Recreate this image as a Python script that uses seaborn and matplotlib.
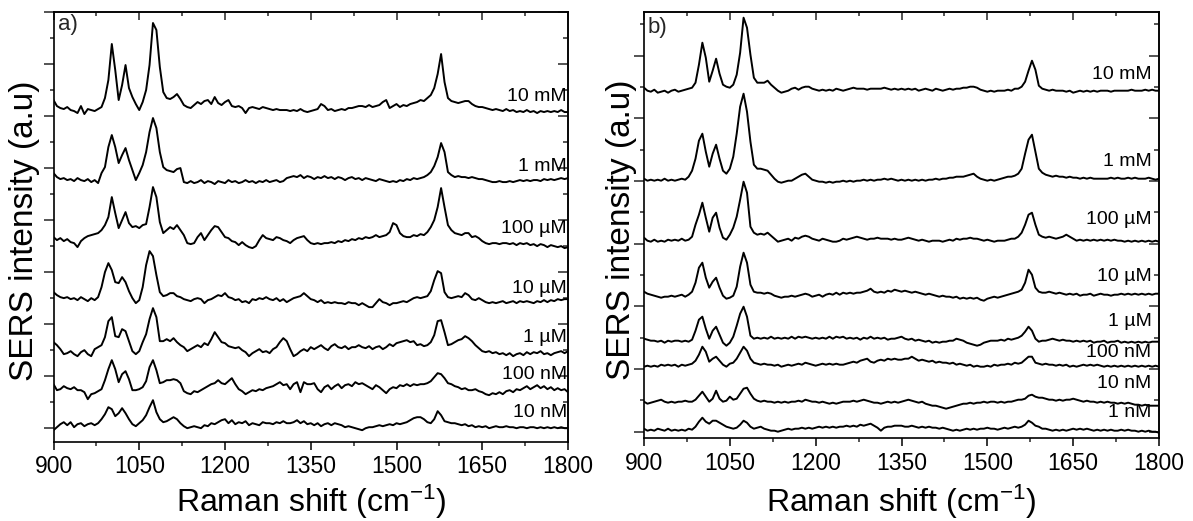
import numpy as np
import pandas as pd
import matplotlib
matplotlib.use("Agg")
import matplotlib.pyplot as plt
import seaborn as sns
from matplotlib.ticker import MultipleLocator, NullFormatter

# Raman shift axis: spectra sampled every 6 cm-1 from 900 to 1800 cm-1
wavenumber = np.arange(900, 1801, 6)

# ---- panel a: SERS spectra (counts above each trace's stacking offset) ----
conc_a = ["10 mM", "1 mM", "100 µM", "10 µM", "1 µM", "100 nM", "10 nM"]
offset_a = [318, 248, 186, 128, 79, 41, 4]

spec_a_10mM = [
    10, 4, 2, 1, 3, 0, -1, -3, 4, -4,
    1, 0, -1, 1, 3, 12, 30, 66, 40, 10,
    25, 45, 22, 13, 6, 0, 8, 20, 45, 87,
    80, 43, 18, 12, 11, 13, 16, 11, 5, 3,
    2, 5, 8, 6, 9, 10, 6, 13, 7, 5,
    8, 10, 4, 3, 4, 2, -3, 2, 3, 2,
    1, 3, 2, 1, 0, 1, 0, 0, 0, -1,
    0, -1, 1, -1, -2, -1, 0, 1, 6, 4,
    0, 1, -1, 0, 1, 0, 2, 2, 3, 4,
    4, 3, 5, 3, 4, 5, 8, 10, 2, 4,
    6, 3, 5, 4, 6, 7, 8, 10, 9, 12,
    15, 22, 36, 56, 28, 12, 9, 8, 7, 8,
    9, 9, 6, 4, 3, 3, 2, 1, 0, 1,
    0, -1, 1, -1, 0, -2, -1, -2, 0, -2,
    -1, -3, -1, -2, -1, -2, -1, -2, 0, -2,
    -2]
spec_a_1mM = [
    7, 3, 1, 2, 0, 1, -1, 2, 0, -1,
    1, -2, 0, -3, 7, 13, 33, 45, 33, 17,
    25, 32, 20, 10, 0, 7, 15, 28, 48, 62,
    52, 28, 13, 10, 9, 8, 11, 12, -2, -3,
    -1, -3, -2, 0, -3, -1, -2, -4, -1, -2,
    -3, 0, -2, -1, -3, -2, 0, -2, -1, -3,
    -1, -2, 0, -2, -1, 0, -2, -1, 2, 3,
    4, 3, 5, 2, 4, 3, 1, 3, 2, 4,
    2, 3, 1, 3, 2, 0, 2, 3, 1, 2,
    0, 2, 1, 0, -1, 1, 0, -1, -2, -1,
    -2, 0, -1, 1, 0, 2, 1, 2, 3, 5,
    8, 14, 23, 37, 28, 8, 5, 3, 4, 3,
    3, 2, 3, 2, 1, 1, 0, -1, -2, -2,
    -1, -2, -2, -1, -2, -1, 0, -1, 0, -1,
    0, 0, -1, 1, 0, 1, 0, 1, 2, 1,
    2]
spec_a_100uM = [
    5, 2, 4, 1, 3, 0, -1, -5, 1, 4,
    6, 7, 8, 9, 12, 17, 25, 45, 29, 14,
    22, 30, 19, 15, 16, 14, 17, 18, 35, 55,
    45, 20, 9, 12, 15, 13, 17, 12, 7, -1,
    -2, -1, 5, 9, 2, 7, 12, 16, 15, 10,
    5, 4, 1, 0, -3, 0, -3, -5, -6, -4,
    2, 7, 4, 3, 2, 5, 4, 2, 1, -1,
    2, 4, 5, 6, 2, -1, -2, -1, -2, -1,
    -1, 0, -1, 1, 0, 2, 1, 3, 2, 4,
    3, 5, 4, 5, 7, 5, 6, 7, 10, 19,
    17, 9, 6, 5, 5, 7, 6, 8, 7, 10,
    15, 22, 35, 54, 35, 17, 12, 9, 8, 7,
    9, 9, 5, 6, 4, 1, -1, -2, -1, -1,
    -2, -1, -1, -2, -1, -3, -1, -2, -1, -3,
    -2, -4, -2, -3, -5, -3, -4, -5, -4, -6,
    -5]
spec_a_10uM = [
    8, 5, 3, 2, 3, 1, 2, 0, 3, 1,
    -1, 2, 0, 3, 13, 28, 37, 30, 18, 17,
    23, 18, 9, 2, -3, 0, 13, 35, 49, 44,
    25, 8, 4, 5, 7, 7, 4, 3, 1, 0,
    -1, 1, 2, 1, -3, 0, 1, 3, 5, 4,
    7, 3, 2, 0, 1, -2, -1, -3, 1, 0,
    2, 1, 3, 1, 0, 2, -1, 1, -2, 0,
    2, 3, 4, 7, 4, 1, 0, -2, 0, -3,
    -2, -3, -2, -3, -3, -4, -2, -3, -3, -5,
    -3, -5, -7, -7, -3, 1, -2, -3, -5, -3,
    -3, -2, -1, -2, 0, 2, 3, 2, 3, 4,
    9, 20, 29, 27, 8, 3, 2, 3, 4, 3,
    7, 5, 1, 0, 2, 0, -2, -3, -2, -3,
    -2, -1, -3, -2, -1, -3, -1, -2, -1, -2,
    -3, -1, -2, 0, -2, 0, -1, 1, 0, 1,
    1]
spec_a_1uM = [
    7, 4, 0, -5, -4, -2, -5, -7, -3, -1,
    -5, -7, 0, 2, 4, 12, 28, 32, 13, 12,
    20, 18, 8, -2, -5, -2, 7, 15, 30, 41,
    32, 8, 8, 10, 8, 11, 7, 4, 2, -2,
    0, 2, 4, 2, 6, 4, 10, 17, 12, 7,
    6, 3, 2, 1, 2, -1, -3, -7, -4, -2,
    0, -3, -2, -4, 0, 2, 7, 11, 8, 0,
    -7, -5, -2, 0, -2, 2, 0, 2, 4, 1,
    -1, 3, 5, 2, 1, 3, 0, 2, 2, 4,
    2, 1, 3, 0, 2, 3, 0, 2, 5, 3,
    6, 7, 8, 9, 7, 8, 4, 5, 3, 4,
    7, 14, 28, 29, 17, 4, 5, 7, 9, 10,
    13, 11, 8, 4, 1, -2, -3, -2, -4, -3,
    -5, -4, -6, -4, -7, -5, -4, -6, -3, -5,
    -3, -4, -2, -5, -4, -6, -4, -3, -2, -4,
    -2]
spec_a_100nM = [
    3, -3, -2, 1, -1, -2, 0, -3, -3, -5,
    -12, -7, -6, -4, -2, 7, 18, 27, 18, 5,
    13, 16, 8, -3, -3, -2, 0, 6, 20, 27,
    17, 4, 5, 7, 7, 8, 7, 4, -4, -6,
    -7, -4, -5, -3, -1, 1, 3, 4, 7, 4,
    3, 6, 9, 3, -2, -4, -7, -5, -3, -4,
    -2, -3, -1, 0, 1, 3, 5, 2, 3, -2,
    3, 5, -5, 5, 3, 3, 4, -2, -5, 0,
    2, -2, 1, 3, -1, 2, 3, 1, 5, 3,
    4, 2, 0, -2, 2, 0, -3, -6, -2, 0,
    -1, 2, 1, 3, 1, 3, 2, 3, 3, 4,
    6, 10, 14, 13, 9, 4, 3, 1, 0, -2,
    -1, -3, -3, -2, -4, -5, -7, -8, -6, -7,
    -5, -7, -4, -3, -5, -2, -3, -1, 1, -2,
    0, 2, -1, 1, -2, 0, -3, -1, -3, -2,
    -5]
spec_a_10nM = [
    -6, -3, 0, 2, -1, 2, -3, 0, 1, -2,
    0, 1, -1, 1, 5, 10, 17, 15, 8, 11,
    16, 11, 5, 0, -2, 1, 4, 9, 17, 24,
    12, 5, 2, 3, 5, 7, 5, 1, -2, -4,
    -3, -2, -3, -4, -1, -2, 1, 0, 2, 4,
    5, 1, 4, 0, 2, 1, 3, -1, 1, 0,
    -1, 2, 1, 1, 0, 2, 1, 3, 1, 1,
    2, 4, 1, 3, 0, 1, -1, 1, -2, 0,
    1, -1, 1, 0, -1, -3, -2, -3, -4, -5,
    -6, -4, -3, -3, -2, -1, -2, -1, 0, -1,
    1, 0, 1, 2, 4, 6, 7, 7, 5, 2,
    1, 5, 13, 9, 3, 2, 1, 1, 0, -1,
    0, -2, -1, -3, -2, -3, -2, -4, -3, -2,
    -3, -3, -2, -3, -3, -4, -3, -3, -4, -3,
    -3, -4, -3, -4, -3, -4, -3, -4, -3, -4,
    -4]

# ---- panel b ----
conc_b = ["10 mM", "1 mM", "100 µM", "10 µM", "1 µM", "100 nM", "10 nM", "1 nM"]
offset_b = [342, 252, 192, 137, 92, 67, 30, 3]

spec_b_10mM = [
    2, -1, -2, 0, -3, -2, -1, -3, -1, 0,
    -2, -1, 0, 1, 2, 7, 25, 47, 32, 8,
    19, 31, 16, 5, 3, 2, 5, 15, 37, 72,
    62, 35, 12, 7, 7, 7, 9, 5, 2, -1,
    -3, -2, -1, 1, 2, 0, 2, 3, 3, 1,
    0, -1, 0, -1, 0, -1, 1, 0, -1, 0,
    1, 2, 1, 1, 1, 0, 1, 1, 1, 1,
    2, 1, 0, 1, 0, 1, 0, 1, 0, 1,
    -1, 0, 1, 0, -1, 1, 0, -1, 0, 1,
    0, 1, 1, 2, 2, 3, 3, 2, 0, -1,
    -2, -1, -2, -1, -1, -1, 0, -1, 1, 1,
    3, 8, 19, 29, 20, 4, 1, 0, -1, 0,
    -1, -1, -1, -2, -1, -3, -2, -1, -2, -1,
    -2, -1, -2, -1, -1, -1, -2, -1, -1, -1,
    -1, -1, 0, -1, -1, -1, 0, -1, 0, -1,
    -1]
spec_b_1mM = [
    1, -1, 0, -1, 0, -1, 1, -1, 0, -1,
    0, 1, 0, 3, 9, 21, 39, 46, 28, 13,
    26, 35, 21, 9, 6, 11, 23, 46, 73, 86,
    68, 38, 15, 11, 11, 10, 9, 5, 1, -2,
    -3, -2, -1, -1, 1, 3, 5, 6, 3, 0,
    -1, -2, -2, -3, -2, -3, -2, -2, -1, -2,
    -1, -2, -1, -1, 0, -1, 0, -1, 0, 0,
    1, 0, 1, 0, -1, 0, -1, 0, -1, 0,
    -1, 0, -1, 0, 0, 1, 0, 1, 1, 2,
    2, 3, 3, 3, 4, 5, 6, 3, 1, 0,
    -1, 0, -1, 0, 1, 2, 3, 3, 4, 6,
    11, 26, 40, 45, 28, 11, 7, 5, 4, 3,
    4, 3, 3, 2, 3, 2, 2, 1, 2, 1,
    2, 1, 1, 1, 1, 1, 2, 1, 2, 1,
    1, 2, 1, 2, 1, 1, 1, 2, 1, 0,
    1]
spec_b_100uM = [
    2, -1, -2, 0, -2, -1, -2, 0, -1, 0,
    -1, 1, -1, 0, 3, 15, 25, 37, 22, 8,
    22, 27, 12, 2, 0, 5, 12, 23, 40, 58,
    47, 13, 7, 5, 6, 5, 7, 4, 1, -2,
    -1, 0, 1, -1, 2, 1, 3, 4, 3, 1,
    0, -1, 1, 0, -1, -2, -2, -1, 1, 0,
    1, 2, 3, 2, 1, 0, 1, 1, 2, 1,
    1, 1, 0, 1, 0, 0, 1, 2, 1, 0,
    -1, 0, -1, -2, -1, -1, -1, -2, -1, 0,
    -1, 1, 0, 1, 1, 2, 1, 1, 0, -1,
    0, -1, -2, -1, -1, -1, 0, 1, 1, 3,
    7, 15, 25, 27, 15, 5, 3, 2, 3, 2,
    1, 2, 3, 5, 3, 1, -1, 0, -1, 0,
    -1, 0, -1, 0, -1, 0, -1, 0, -1, -1,
    -2, -1, -2, -1, -2, -1, -2, -1, -2, -1,
    -2]
spec_b_10uM = [
    3, 1, 0, -1, -2, -3, -2, -2, -1, -2,
    -1, 0, -2, 0, 3, 12, 27, 32, 17, 7,
    13, 17, 7, -1, -4, -3, -1, 8, 28, 42,
    32, 10, 3, 2, 2, 1, 2, 1, -1, -2,
    -3, -2, -2, -1, -2, -1, 0, 1, 0, -2,
    -1, 0, -2, 0, 1, 0, 2, 0, 2, 1,
    2, 1, 2, 2, 3, 4, 6, 3, 2, 3,
    2, 4, 3, 5, 4, 3, 4, 3, 2, 3,
    2, 1, 0, 1, 0, -1, -2, -1, -2, -2,
    -3, -2, -4, -3, -4, -3, -4, -3, -5, -6,
    -4, -3, -2, -3, -2, -1, 0, 1, 2, 3,
    5, 12, 25, 20, 7, 3, 2, 2, 3, 2,
    1, 2, 1, 0, 1, 0, 1, -1, 0, 0,
    1, -1, 0, 1, 0, 0, -1, 0, 0, 1,
    0, 1, 0, 1, 0, 1, 0, 1, 0, 1,
    1]
spec_b_1uM = [
    1, 0, -1, -1, -2, -1, -3, -1, -2, -1,
    -1, -2, -1, -2, 0, 9, 20, 23, 11, 1,
    9, 13, 5, -3, -6, -3, 3, 14, 26, 33,
    23, 4, 1, 2, 1, 2, 1, 3, 1, 2,
    1, 2, 1, 3, 1, 3, 2, 3, 2, 1,
    2, 1, 2, 1, 3, 1, 3, 2, 3, 1,
    2, 1, 2, 0, 2, 1, 3, 1, 2, 1,
    2, 0, 1, 1, 2, 3, 1, 0, 1, -1,
    0, -1, -2, -1, -3, -2, -3, -2, -2, -1,
    -1, 1, 0, -1, -3, -4, -5, -6, -5, -3,
    -2, -1, -1, -1, 0, -1, 1, 0, 1, 2,
    4, 8, 13, 9, 1, -2, -1, -1, 0, 1,
    0, -1, 0, -1, -1, -2, -1, -2, -1, -2,
    -1, -3, -2, -2, -1, -3, -2, -2, -1, -3,
    -2, -3, -2, -3, -2, -3, -2, -3, -2, -2,
    -2]
spec_b_100nM = [
    -2, -1, -2, -1, -2, 0, -1, 0, -1, 0,
    -2, 0, -1, 0, 1, 4, 10, 18, 13, 3,
    6, 8, 4, 0, -2, 1, 2, 6, 12, 18,
    14, 6, 2, 1, 0, 1, 0, 0, -1, 0,
    -2, -1, 0, -1, 0, 1, 0, 2, 1, 0,
    -1, 0, 1, 0, 1, 0, 1, 0, 0, 1,
    2, 3, 2, 4, 5, 6, 3, 2, 4, 5,
    4, 6, 5, 6, 5, 5, 6, 6, 8, 6,
    4, 5, 4, 3, 4, 2, 3, 2, 2, 1,
    2, 0, 1, 0, -1, 0, -2, -1, -2, -2,
    -1, -2, 0, -1, 0, 0, 1, 0, 2, 1,
    2, 5, 8, 8, 2, 1, 0, 1, 0, 0,
    -1, 0, -1, 0, -2, -1, -2, -1, 0, -1,
    0, -1, 0, -1, -2, -1, -2, -1, -2, -1,
    -2, -1, -2, -1, -2, -1, -2, -1, -2, -1,
    -2]
spec_b_10nM = [
    0, -2, -1, 0, 1, 2, 0, -1, 0, -1,
    0, 0, 1, 0, 0, 2, 6, 10, 5, 0,
    3, 11, 3, 0, 1, 5, 2, 3, 8, 13,
    14, 8, 3, 1, 0, 1, 0, 0, -1, 0,
    -1, 0, -1, 0, 0, 1, 0, 2, 1, 0,
    0, -1, 0, -1, -2, -1, -2, -1, 0, 0,
    0, 1, 0, 1, 2, 1, 0, -1, -1, -2,
    -1, 0, -1, 0, -1, 0, 1, 2, 1, 0,
    -1, 0, -2, -3, -4, -4, -5, -6, -7, -6,
    -5, -4, -3, -2, -2, -1, -2, -1, -1, 0,
    -1, 0, 0, -1, 0, -1, 0, 0, 1, 2,
    2, 3, 6, 7, 5, 4, 4, 3, 2, 2,
    1, 2, 1, 2, 2, 3, 2, 1, 0, 1,
    0, 0, -1, 0, -1, 0, -1, -1, -2, -1,
    -2, -1, -2, -3, -3, -4, -3, -4, -4, -4,
    -4]
spec_b_1nM = [
    0, -2, -1, -2, 0, -1, -2, 0, -2, -1,
    -2, -1, -2, 0, -1, 2, 7, 11, 7, 5,
    8, 8, 6, 4, 2, 1, 0, 1, 4, 8,
    6, 2, 0, 1, 2, 0, -1, -2, -2, -3,
    -2, -1, 0, -1, 0, 0, 1, 0, 1, 0,
    1, 2, 1, 2, 1, 2, 1, 2, 2, 3,
    2, 3, 2, 4, 3, 4, 5, 3, 1, -2,
    1, 2, 2, 3, 3, 3, 2, 2, 3, 2,
    1, 2, 1, 2, 1, 1, 0, 1, 0, -1,
    -2, -1, -2, -1, 0, -1, 0, -1, 0, 0,
    1, 0, 0, -1, 0, 1, 0, 1, 2, 1,
    2, 4, 8, 6, 3, 2, 0, 0, -1, -2,
    -1, -2, -1, -2, -1, 0, -1, 0, -1, 0,
    -1, -2, -1, -2, -1, -2, -1, -2, -2, -1,
    -2, -1, -2, -2, -3, -2, -3, -2, -3, -3,
    -4]

spectra_a = [spec_a_10mM, spec_a_1mM, spec_a_100uM, spec_a_10uM,
             spec_a_1uM, spec_a_100nM, spec_a_10nM]
spectra_b = [spec_b_10mM, spec_b_1mM, spec_b_100uM, spec_b_10uM,
             spec_b_1uM, spec_b_100nM, spec_b_10nM, spec_b_1nM]

# label heights above each trace (same units as the intensities)
label_gap_a = [14, 14, 14, 12, 12, 13, 12]
label_gap_b = [15, 18, 20, 18, 18, 12, 18, 16]

# ---------------------------------------------------------------- styling
sns.set_theme(style="ticks")
plt.rcParams["font.family"] = ["Liberation Sans", "DejaVu Sans"]
plt.rcParams["mathtext.fontset"] = "custom"
plt.rcParams["mathtext.rm"] = "Liberation Sans"
plt.rcParams["mathtext.it"] = "Liberation Sans:italic"
plt.rcParams["mathtext.bf"] = "Liberation Sans:bold"
plt.rcParams["axes.linewidth"] = 1.2

W, H = 1193, 521
fig = plt.figure(figsize=(W / 100, H / 100), dpi=100)
fig.patch.set_facecolor("white")


def px_axes(left, right, top, bottom):
    return fig.add_axes([left / W, 1 - bottom / H, (right - left) / W, (bottom - top) / H])


ax_a = px_axes(53.5, 568, 12, 441.5)
ax_b = px_axes(644, 1159, 12, 438.3)


def style_axes(ax, ylim, ystep):
    ax.set_facecolor("white")
    ax.set_xlim(900, 1800)
    ax.set_ylim(*ylim)
    ax.xaxis.set_major_locator(MultipleLocator(150))
    ax.xaxis.set_minor_locator(MultipleLocator(75))
    ax.yaxis.set_major_locator(MultipleLocator(2 * ystep))
    ax.yaxis.set_minor_locator(MultipleLocator(ystep))
    ax.yaxis.set_major_formatter(NullFormatter())
    ax.tick_params(axis="x", which="major", direction="out", length=5.8, width=1.1,
                   labelsize=16.5, pad=4, colors="black", top=False)
    ax.tick_params(axis="x", which="minor", direction="out", length=3.2, width=1.1, top=False)
    ax.tick_params(axis="y", which="major", direction="out", length=7, width=1.1, right=False)
    ax.tick_params(axis="y", which="minor", direction="out", length=3, width=1.1, right=False)
    for sp in ax.spines.values():
        sp.set_visible(True)
        sp.set_color("black")
        sp.set_linewidth(1.2)

    top = ax.secondary_xaxis("top")
    top.xaxis.set_major_locator(MultipleLocator(150))
    top.xaxis.set_minor_locator(MultipleLocator(75))
    top.xaxis.set_major_formatter(NullFormatter())
    top.tick_params(axis="x", which="major", direction="in", length=5.8, width=1.1)
    top.tick_params(axis="x", which="minor", direction="in", length=3, width=1.1)
    top.spines["top"].set_linewidth(1.2)

    right = ax.secondary_yaxis("right")
    right.yaxis.set_major_locator(MultipleLocator(2 * ystep))
    right.yaxis.set_minor_locator(MultipleLocator(ystep))
    right.yaxis.set_major_formatter(NullFormatter())
    right.tick_params(axis="y", which="major", direction="in", length=7, width=1.1)
    right.tick_params(axis="y", which="minor", direction="in", length=3.5, width=1.1)
    right.spines["right"].set_linewidth(1.2)

    ax.set_xlabel("Raman shift (cm$^{-1}$)", fontsize=23, color="black")
    ax.set_ylabel("SERS intensity (a.u)", fontsize=24, color="black")


def draw_stack(ax, spectra, offsets, labels, label_x, label_gaps):
    for values, off, lab, gap in zip(spectra, offsets, labels, label_gaps):
        frame = pd.DataFrame({"shift": wavenumber, "intensity": np.asarray(values, float) + off})
        sns.lineplot(data=frame, x="shift", y="intensity", ax=ax, color="black",
                     linewidth=1.4, estimator=None, sort=False)
        ax.text(label_x, off + gap, lab, ha="right", va="center",
                fontsize=14, color="black")


draw_stack(ax_a, spectra_a, offset_a, conc_a, label_x=1798, label_gaps=label_gap_a)
style_axes(ax_a, ylim=(-13.3, 416), ystep=26)
ax_a.xaxis.set_label_coords(0.5, -0.097)
ax_a.yaxis.set_label_coords(-0.026, 0.49)
ax_a.text(0.009, 0.995, "a)", transform=ax_a.transAxes, ha="left", va="top", fontsize=16)

draw_stack(ax_b, spectra_b, offset_b, conc_b, label_x=1787, label_gaps=label_gap_b)
style_axes(ax_b, ylim=(-6.6, 419.7), ystep=31.35)
ax_b.xaxis.set_label_coords(0.5, -0.105)
ax_b.yaxis.set_label_coords(-0.0136, 0.49)
ax_b.text(0.006, 0.988, "b)", transform=ax_b.transAxes, ha="left", va="top", fontsize=16)

fig.savefig("out.png", dpi=100, facecolor="white")
